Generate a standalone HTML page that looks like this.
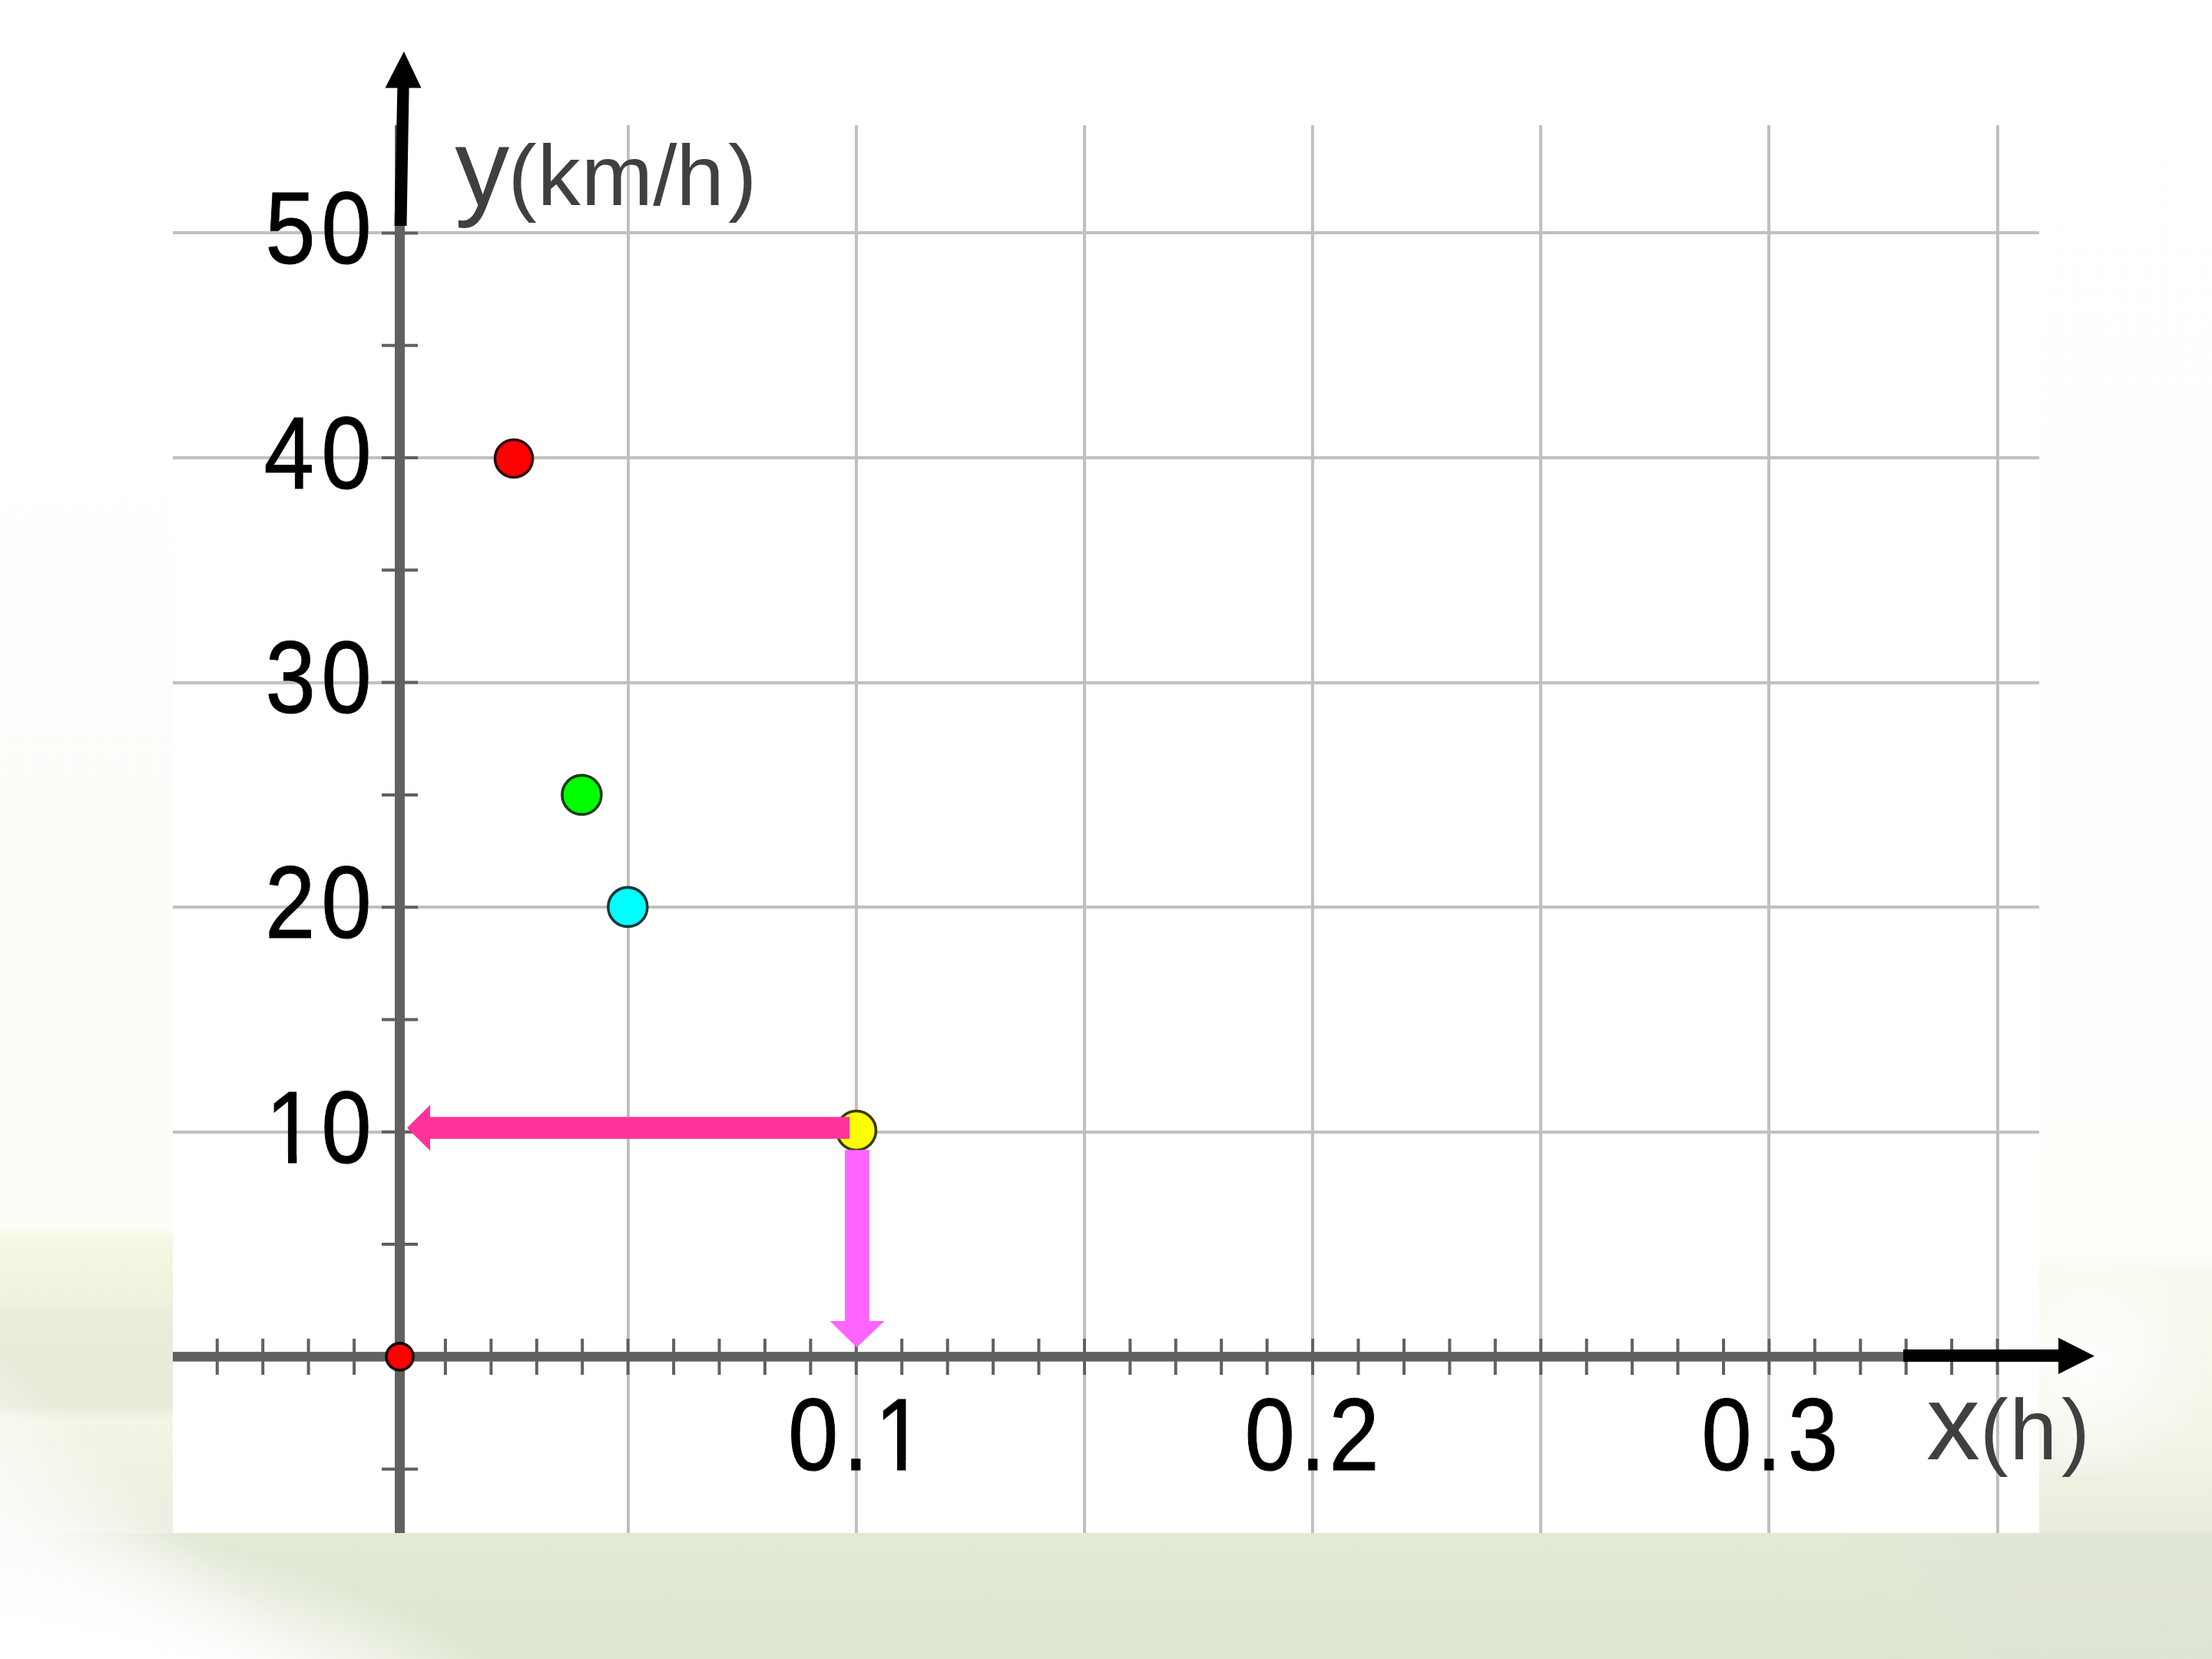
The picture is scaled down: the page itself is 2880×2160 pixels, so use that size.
<!DOCTYPE html>
<html>
<head>
<meta charset="utf-8">
<style>
html,body{margin:0;padding:0;}
body{width:2880px;height:2160px;overflow:hidden;position:relative;background:#ffffff;font-family:"Liberation Sans",Arial,sans-serif;}
#plot{position:absolute;left:0;top:0;width:2880px;height:2160px;}
</style>
</head>
<body>

<svg id="plot" width="2880" height="2160" viewBox="0 0 2880 2160">
<defs>
<linearGradient id="lstrip" x1="0" y1="0" x2="0" y2="2000" gradientUnits="userSpaceOnUse">
<stop offset="0" stop-color="#ffffff"/>
<stop offset="0.3" stop-color="#ffffff"/>
<stop offset="0.45" stop-color="#fefdfb"/>
<stop offset="0.6" stop-color="#fefcf8"/>
<stop offset="0.7" stop-color="#fefcf7"/>
<stop offset="0.8" stop-color="#fdfcf6"/>
<stop offset="0.806" stop-color="#f5f7e5"/>
<stop offset="0.815" stop-color="#f3f6e1"/>
<stop offset="0.845" stop-color="#eff3de"/>
<stop offset="0.855" stop-color="#e9eedc"/>
<stop offset="0.915" stop-color="#e7ecda"/>
<stop offset="0.925" stop-color="#f3f6e7"/>
<stop offset="0.935" stop-color="#f1f4e5"/>
<stop offset="1" stop-color="#eaefe0"/>
</linearGradient>
<linearGradient id="rstrip" x1="0" y1="0" x2="0" y2="1996" gradientUnits="userSpaceOnUse">
<stop offset="0" stop-color="#ffffff"/>
<stop offset="0.5" stop-color="#fefefe"/>
<stop offset="0.7" stop-color="#fefefc"/>
<stop offset="0.818" stop-color="#fefefa"/>
<stop offset="0.83" stop-color="#f8faef"/>
<stop offset="0.9" stop-color="#f4f7ea"/>
<stop offset="0.95" stop-color="#f0f4e6"/>
<stop offset="1" stop-color="#e7ecdc"/>
</linearGradient>
<linearGradient id="band" x1="0" y1="1996" x2="0" y2="2160" gradientUnits="userSpaceOnUse">
<stop offset="0" stop-color="#e2e9d6"/>
<stop offset="1" stop-color="#dde6cf"/>
</linearGradient>
<linearGradient id="bandr" x1="2380" y1="0" x2="2620" y2="0" gradientUnits="userSpaceOnUse">
<stop offset="0" stop-color="#dfe4d6" stop-opacity="0"/><stop offset="1" stop-color="#dfe4d6" stop-opacity="0.75"/></linearGradient>
<linearGradient id="wfade" x1="25" y1="2000" x2="132" y2="1888" gradientUnits="userSpaceOnUse">
<stop offset="0" stop-color="#fff" stop-opacity="1"/><stop offset="0.5" stop-color="#fff" stop-opacity="0.55"/><stop offset="1" stop-color="#fff" stop-opacity="0"/></linearGradient>
<radialGradient id="bl" cx="0" cy="0" r="1" gradientUnits="userSpaceOnUse" gradientTransform="translate(-100 2700) scale(1100 738)">
<stop offset="0" stop-color="#fff" stop-opacity="1"/><stop offset="0.8" stop-color="#fff" stop-opacity="0.97"/><stop offset="0.9" stop-color="#fff" stop-opacity="0.55"/><stop offset="1" stop-color="#fff" stop-opacity="0"/></radialGradient>
<radialGradient id="glow" cx="2720" cy="1775" r="160" gradientUnits="userSpaceOnUse">
<stop offset="0" stop-color="#fff" stop-opacity="0.9"/><stop offset="1" stop-color="#fff" stop-opacity="0"/></radialGradient>
</defs>
<rect x="0" y="0" width="225" height="2000" fill="url(#lstrip)"/>
<rect x="2655" y="0" width="225" height="1996" fill="url(#rstrip)"/>
<rect x="0" y="1996" width="2880" height="164" fill="url(#band)"/>
<rect x="2380" y="1996" width="500" height="164" fill="url(#bandr)"/>
<rect x="0" y="1700" width="1000" height="460" fill="url(#wfade)" opacity="0.8"/>
<rect x="0" y="1900" width="1100" height="260" fill="url(#bl)"/>
<rect x="2655" y="1630" width="225" height="290" fill="url(#glow)"/>
<rect x="225" y="0" width="2430" height="1996" fill="#ffffff"/>
<defs><mask id="m0" maskUnits="userSpaceOnUse" x="-100" y="-300" width="5000" height="600"><rect x="-100" y="-300" width="5000" height="600" fill="#fff"/><rect x="394.83" y="-12.00" width="28.95" height="14.00" fill="#000"/><rect x="436.53" y="-12.00" width="28.00" height="14.00" fill="#000"/></mask><mask id="m1" maskUnits="userSpaceOnUse" x="-100" y="-300" width="5000" height="600"><rect x="-100" y="-300" width="5000" height="600" fill="#fff"/><rect x="1290.93" y="-12.00" width="28.95" height="14.00" fill="#000"/><rect x="1332.63" y="-12.00" width="28.00" height="14.00" fill="#000"/></mask></defs>
<g stroke="#c0c0c0" stroke-width="4" shape-rendering="crispEdges">
<line x1="817.6" y1="163" x2="817.6" y2="1996"/>
<line x1="1114.8" y1="163" x2="1114.8" y2="1996"/>
<line x1="1411.9" y1="163" x2="1411.9" y2="1996"/>
<line x1="1709.1" y1="163" x2="1709.1" y2="1996"/>
<line x1="2006.2" y1="163" x2="2006.2" y2="1996"/>
<line x1="2303.4" y1="163" x2="2303.4" y2="1996"/>
<line x1="2600.5" y1="163" x2="2600.5" y2="1996"/>
<line x1="225" y1="1473.8" x2="2655" y2="1473.8"/>
<line x1="225" y1="1181.2" x2="2655" y2="1181.2"/>
<line x1="225" y1="888.6" x2="2655" y2="888.6"/>
<line x1="225" y1="596.0" x2="2655" y2="596.0"/>
<line x1="225" y1="303.4" x2="2655" y2="303.4"/>
</g>
<rect x="514.0" y="163" width="13" height="1833" fill="#616161"/>
<rect x="225" y="1760.1" width="2255" height="12.6" fill="#616161"/>
<g stroke="#606060" stroke-width="4">
<line x1="497" y1="1912.7" x2="544" y2="1912.7"/>
<line x1="497" y1="1620.1" x2="544" y2="1620.1"/>
<line x1="497" y1="1473.8" x2="544" y2="1473.8"/>
<line x1="497" y1="1327.5" x2="544" y2="1327.5"/>
<line x1="497" y1="1181.2" x2="544" y2="1181.2"/>
<line x1="497" y1="1034.9" x2="544" y2="1034.9"/>
<line x1="497" y1="888.6" x2="544" y2="888.6"/>
<line x1="497" y1="742.3" x2="544" y2="742.3"/>
<line x1="497" y1="596.0" x2="544" y2="596.0"/>
<line x1="497" y1="449.7" x2="544" y2="449.7"/>
<line x1="497" y1="303.4" x2="544" y2="303.4"/>
<line x1="282.8" y1="1743" x2="282.8" y2="1790"/>
<line x1="342.2" y1="1743" x2="342.2" y2="1790"/>
<line x1="401.6" y1="1743" x2="401.6" y2="1790"/>
<line x1="461.1" y1="1743" x2="461.1" y2="1790"/>
<line x1="579.9" y1="1743" x2="579.9" y2="1790"/>
<line x1="639.4" y1="1743" x2="639.4" y2="1790"/>
<line x1="698.8" y1="1743" x2="698.8" y2="1790"/>
<line x1="758.2" y1="1743" x2="758.2" y2="1790"/>
<line x1="817.6" y1="1743" x2="817.6" y2="1790"/>
<line x1="877.1" y1="1743" x2="877.1" y2="1790"/>
<line x1="936.5" y1="1743" x2="936.5" y2="1790"/>
<line x1="995.9" y1="1743" x2="995.9" y2="1790"/>
<line x1="1055.4" y1="1743" x2="1055.4" y2="1790"/>
<line x1="1114.8" y1="1743" x2="1114.8" y2="1790"/>
<line x1="1174.2" y1="1743" x2="1174.2" y2="1790"/>
<line x1="1233.7" y1="1743" x2="1233.7" y2="1790"/>
<line x1="1293.1" y1="1743" x2="1293.1" y2="1790"/>
<line x1="1352.5" y1="1743" x2="1352.5" y2="1790"/>
<line x1="1412.0" y1="1743" x2="1412.0" y2="1790"/>
<line x1="1471.4" y1="1743" x2="1471.4" y2="1790"/>
<line x1="1530.8" y1="1743" x2="1530.8" y2="1790"/>
<line x1="1590.2" y1="1743" x2="1590.2" y2="1790"/>
<line x1="1649.7" y1="1743" x2="1649.7" y2="1790"/>
<line x1="1709.1" y1="1743" x2="1709.1" y2="1790"/>
<line x1="1768.5" y1="1743" x2="1768.5" y2="1790"/>
<line x1="1828.0" y1="1743" x2="1828.0" y2="1790"/>
<line x1="1887.4" y1="1743" x2="1887.4" y2="1790"/>
<line x1="1946.8" y1="1743" x2="1946.8" y2="1790"/>
<line x1="2006.2" y1="1743" x2="2006.2" y2="1790"/>
<line x1="2065.7" y1="1743" x2="2065.7" y2="1790"/>
<line x1="2125.1" y1="1743" x2="2125.1" y2="1790"/>
<line x1="2184.5" y1="1743" x2="2184.5" y2="1790"/>
<line x1="2244.0" y1="1743" x2="2244.0" y2="1790"/>
<line x1="2303.4" y1="1743" x2="2303.4" y2="1790"/>
<line x1="2362.8" y1="1743" x2="2362.8" y2="1790"/>
<line x1="2422.3" y1="1743" x2="2422.3" y2="1790"/>
<line x1="2481.7" y1="1743" x2="2481.7" y2="1790"/>
<line x1="2541.1" y1="1743" x2="2541.1" y2="1790"/>
<line x1="2600.6" y1="1743" x2="2600.6" y2="1790"/>
</g>
<polygon points="513.5,294 529.5,294 532.6,113 517.4,113" fill="#000"/>
<polygon points="501.5,114.5 548.5,114.5 525.9,67" fill="#000"/>
<rect x="2478" y="1757" width="204" height="16" fill="#000"/>
<polygon points="2680,1741.7 2680,1789 2727,1765.4" fill="#000"/>
<text transform="translate(0 342.80) scale(0.885 1)" font-family="Liberation Sans, Arial, sans-serif" font-size="133" fill="#000" stroke="#000" stroke-width="1.0"><tspan x="390.18">5</tspan><tspan x="472.66">0</tspan></text>
<text transform="translate(0 635.60) scale(0.885 1)" font-family="Liberation Sans, Arial, sans-serif" font-size="133" fill="#000" stroke="#000" stroke-width="1.0"><tspan x="388.19">4</tspan><tspan x="472.72">0</tspan></text>
<text transform="translate(0 927.80) scale(0.885 1)" font-family="Liberation Sans, Arial, sans-serif" font-size="133" fill="#000" stroke="#000" stroke-width="1.0"><tspan x="390.39">3</tspan><tspan x="472.72">0</tspan></text>
<text transform="translate(0 1220.70) scale(0.885 1)" font-family="Liberation Sans, Arial, sans-serif" font-size="133" fill="#000" stroke="#000" stroke-width="1.0"><tspan x="389.89">2</tspan><tspan x="472.72">0</tspan></text>
<text transform="translate(0 1513.80) scale(0.885 1)" font-family="Liberation Sans, Arial, sans-serif" font-size="133" fill="#000" stroke="#000" stroke-width="1.0" mask="url(#m0)"><tspan x="390.83">1</tspan><tspan x="472.72">0</tspan></text>
<text transform="translate(0 1913.80) scale(0.885 1)" font-family="Liberation Sans, Arial, sans-serif" font-size="133" fill="#000" stroke="#000" stroke-width="1.0" mask="url(#m1)"><tspan x="1159.44">0</tspan><tspan x="1240.71">.</tspan><tspan x="1286.93">1</tspan></text>
<text transform="translate(0 1913.80) scale(0.885 1)" font-family="Liberation Sans, Arial, sans-serif" font-size="133" fill="#000" stroke="#000" stroke-width="1.0"><tspan x="1831.08">0</tspan><tspan x="1913.03">.</tspan><tspan x="1955.20">2</tspan></text>
<text transform="translate(0 1913.80) scale(0.885 1)" font-family="Liberation Sans, Arial, sans-serif" font-size="133" fill="#000" stroke="#000" stroke-width="1.0"><tspan x="2503.00">0</tspan><tspan x="2584.32">.</tspan><tspan x="2630.22">3</tspan></text>
<text transform="translate(0 266.70) scale(1.0 1)" font-family="Liberation Sans, Arial, sans-serif" font-size="112" fill="#404040"><tspan x="592.13" font-size="142">y</tspan><tspan x="661.53">(</tspan><tspan x="699.87">k</tspan><tspan x="756.86">m</tspan><tspan x="850.17">/</tspan><tspan x="880.59">h</tspan><tspan x="947.92">)</tspan></text>
<text transform="translate(0 1899.90) scale(1.0 1)" font-family="Liberation Sans, Arial, sans-serif" font-size="111" fill="#404040"><tspan x="2507.94" font-size="140">x</tspan><tspan x="2577.72">(</tspan><tspan x="2616.62">h</tspan><tspan x="2684.06">)</tspan></text>
<circle cx="669" cy="597" r="24.5" fill="#ff0000" stroke="#2a0808" stroke-width="3.6"/>
<circle cx="757.4" cy="1034.9" r="25.5" fill="#00ff00" stroke="#1c3a1c" stroke-width="3.6"/>
<circle cx="817.3" cy="1180.9" r="25.5" fill="#00ffff" stroke="#1c3838" stroke-width="3.6"/>
<circle cx="1115" cy="1472" r="25.5" fill="#ffff00" stroke="#3a3a10" stroke-width="3.6"/>
<circle cx="520.5" cy="1766.4" r="17.5" fill="#ff0000" stroke="#1a0000" stroke-width="3.6"/>
<polygon points="1106,1454.2 560.1,1454.2 560.1,1438.6 529.9,1468.4 560.1,1498.2 560.1,1482.7 1106,1482.7" fill="#ff3399"/>
<polygon points="1100.1,1497.3 1131.8,1497.3 1131.8,1720.1 1151.5,1720.1 1115.5,1754.3 1080.6,1720.1 1100.1,1720.1" fill="#ff64ff"/>
</svg>
</body>
</html>
